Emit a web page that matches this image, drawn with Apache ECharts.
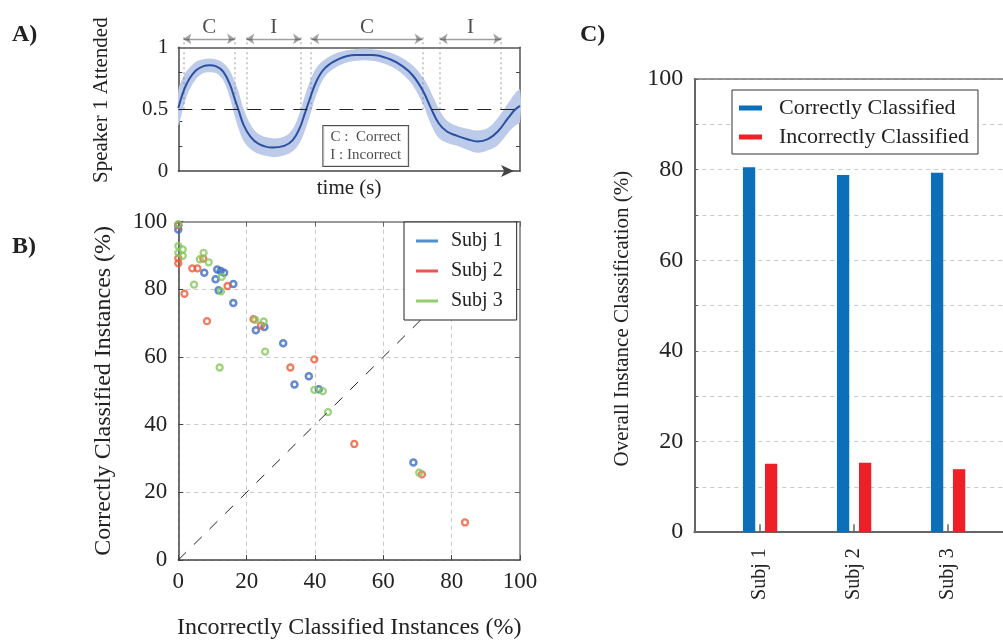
<!DOCTYPE html>
<html>
<head>
<meta charset="utf-8">
<title>Classification of attended speaker</title>
<script src="https://cdn.jsdelivr.net/npm/echarts@6.0.0/dist/echarts.min.js"></script>
<style>
  html, body { margin: 0; padding: 0; background: #fff; }
  #chart { width: 1003px; height: 641px; }
</style>
</head>
<body>
<div id="chart"></div>
<script>
// ---- panel A: decoder output over time (schematic) ----
const timeA = [0, 1.7, 3.2, 5.2, 7.2, 9.1, 11.1, 13.1, 15.1, 16.6, 17.6, 19.1, 21.1, 23.5, 27.5, 31.0, 33.5, 35.5, 36.9, 38.4,
  40.4, 42.9, 46.9, 51.8, 56.8, 61.8, 65.7, 68.7, 71.7, 73.9, 76.2, 78.6, 81.6, 84.6, 87.6, 90.6, 93.5, 96.5, 98.5, 100];
const attendMean = [0.51, 0.657, 0.743, 0.814, 0.846, 0.854, 0.846, 0.805, 0.70, 0.576, 0.495, 0.373, 0.278, 0.219, 0.189, 0.203, 0.25, 0.346, 0.454, 0.576,
  0.724, 0.832, 0.905, 0.938, 0.938, 0.905, 0.846, 0.77, 0.643, 0.51, 0.386, 0.319, 0.284, 0.257, 0.238, 0.257, 0.319, 0.427, 0.495, 0.527];
const bandHalf = [0.14, 0.12, 0.09, 0.07, 0.055, 0.055, 0.055, 0.07, 0.11, 0.14, 0.15, 0.13, 0.10, 0.08, 0.075, 0.075, 0.09, 0.12, 0.14, 0.14,
  0.11, 0.07, 0.055, 0.047, 0.047, 0.055, 0.065, 0.08, 0.11, 0.13, 0.12, 0.09, 0.08, 0.085, 0.09, 0.09, 0.11, 0.12, 0.13, 0.13];
const segStart = [1.5, 19.9, 38.9, 76.5];
const segEnd = [16.6, 35.9, 71.5, 94.5];
const segLabels = ['C', 'I', 'C', 'I'];
const segBounds = [1.5, 16.6, 19.9, 35.9, 38.9, 71.5, 76.5, 94.5];
const yLabelsA = [0, 0.5, 1];
const yTicksA = [0.2, 0.4, 0.6, 0.8];

// ---- panel B: correct vs incorrect per trial ----
const subj1X = [0, 0, 7.6, 11.4, 12.4, 13.4, 10.9, 16.1, 11.8, 16.1, 22.7, 25.2, 30.7, 38.2, 34.0, 41.1, 68.8];
const subj1Y = [99.0, 97.7, 84.9, 85.9, 85.4, 84.9, 83.0, 81.6, 79.7, 76.0, 67.9, 68.9, 64.1, 54.3, 51.9, 50.5, 28.8];
const subj2X = [0, 0, 0, 4.1, 5.6, 7.3, 1.8, 14.4, 8.4, 22.0, 24.2, 32.8, 39.8, 51.5, 71.3, 83.9];
const subj2Y = [99.0, 89.2, 87.7, 86.2, 86.2, 89.1, 78.7, 81.0, 70.6, 71.2, 69.3, 56.9, 59.3, 34.3, 25.3, 11.1];
const subj3X = [0, 0, 0, 1.3, 1.3, 6.3, 7.4, 8.9, 4.6, 12.7, 12.5, 22.5, 25.0, 25.4, 12.1, 39.8, 42.3, 43.8, 70.5];
const subj3Y = [99.3, 92.8, 90.8, 91.8, 89.9, 88.9, 90.8, 88.0, 81.4, 83.7, 79.4, 71.0, 70.5, 61.6, 56.9, 50.3, 49.9, 43.7, 25.8];
const chanceLine = [[0, 0], [100, 100]];

// ---- panel C: overall classification ----
const subjects = ['Subj 1', 'Subj 2', 'Subj 3'];
const subjPos = [1, 2, 3];
const correctPct = [80.5, 78.8, 79.3];
const incorrectPct = [15.1, 15.3, 13.9];

const FONT = 'Liberation Serif';
const INK = '#222';
const GRIDC = '#c8c8c8';

const zip = (xs, ys) => xs.map((x, i) => [x, ys[i]]);

const chart = echarts.init(document.getElementById('chart'));

const hiddenAxis = (grid, min, max) => ({
  gridIndex: grid, type: 'value', min, max, show: false
});

// shaded band around the mean curve, drawn once as a closed smooth polygon
function renderBand(params, api) {
  if (params.dataIndex !== 0) return;
  const upper = timeA.map((t, i) => api.coord([t, attendMean[i] + bandHalf[i]]));
  const lower = timeA.map((t, i) => api.coord([t, attendMean[i] - bandHalf[i]])).reverse();
  return {
    type: 'polygon',
    shape: { points: upper.concat(lower), smooth: 0.35 },
    style: { fill: '#bccbea' }
  };
}

const option = {
  animation: false,
  textStyle: { fontFamily: FONT, color: INK },
  grid: [
    { left: 178.3, top: 47.3, width: 341.7, height: 123.7, outerBoundsMode: 'none' },
    { left: 178.3, top: 221.7, width: 341.7, height: 338.3, outerBoundsMode: 'none' },
    { left: 694.3, top: 79, width: 319.6, height: 453.2, outerBoundsMode: 'none' },
    // overlay for the schematic annotations of panel A
    { left: 178.3, top: 16.4, width: 341.7, height: 154.6, outerBoundsMode: 'none' }
  ],
  graphic: [
    { type: 'text', x: 12, y: 35, style: { text: 'A)', fontSize: 24, fontWeight: 'bold', fontFamily: FONT, fill: INK, verticalAlign: 'middle' } },
    { type: 'text', x: 12, y: 247, style: { text: 'B)', fontSize: 24, fontWeight: 'bold', fontFamily: FONT, fill: INK, verticalAlign: 'middle' } },
    { type: 'text', x: 580, y: 35, style: { text: 'C)', fontSize: 24, fontWeight: 'bold', fontFamily: FONT, fill: INK, verticalAlign: 'middle' } }
  ],
  legend: [
    {
      data: subjects.map((s, i) => ({
        name: s,
        itemStyle: { color: ['#2a72c0', '#e62a2a', '#79c04a'][i], borderWidth: 0 }
      })),
      orient: 'vertical',
      left: 404, top: 222,
      icon: 'rect', itemWidth: 22, itemHeight: 3, itemGap: 10,
      padding: [9, 14, 9, 12],
      borderColor: '#222', borderWidth: 1, backgroundColor: '#fff',
      textStyle: { fontSize: 20, color: INK, fontFamily: FONT, padding: [0, 0, 0, 8] }
    },
    {
      data: ['Correctly Classified', 'Incorrectly Classified'],
      orient: 'vertical',
      left: 732, top: 90,
      icon: 'rect', itemWidth: 23, itemHeight: 5, itemGap: 7,
      padding: [7, 9, 6, 7],
      borderColor: '#333', borderWidth: 1, backgroundColor: '#fff',
      textStyle: { fontSize: 22, color: INK, fontFamily: FONT, padding: [0, 0, 0, 12] }
    }
  ],
  xAxis: [
    // 0: A bottom
    {
      gridIndex: 0, type: 'value', min: 0, max: 100,
      axisLine: { show: true, symbol: ['none', 'arrow'], symbolSize: [9, 13], symbolOffset: [0, -6], lineStyle: { color: '#444', width: 1.5 } },
      axisTick: { show: false }, axisLabel: { show: false }, splitLine: { show: false },
      name: 'time (s)', nameLocation: 'middle', nameGap: 7, nameMoveOverlap: false,
      nameTextStyle: { fontSize: 21, color: INK, verticalAlign: 'top' }
    },
    // 1: A top border
    {
      gridIndex: 0, type: 'value', min: 0, max: 100, position: 'top',
      axisLine: { show: true, onZero: false, lineStyle: { color: '#555', width: 1.5 } },
      axisTick: { show: false }, axisLabel: { show: false }, splitLine: { show: false }
    },
    // 2: B bottom
    {
      gridIndex: 1, type: 'value', min: 0, max: 100, interval: 20,
      axisLine: { show: true, onZero: false, lineStyle: { color: '#444', width: 1.5 } },
      axisTick: { show: true, inside: true, length: 5, lineStyle: { color: '#444' } },
      axisLabel: { fontSize: 23, color: INK, margin: 10 },
      splitLine: { show: true, lineStyle: { color: GRIDC, type: [4, 4], width: 1 } },
      name: 'Incorrectly Classified Instances (%)', nameLocation: 'middle', nameGap: 56, nameMoveOverlap: false,
      nameTextStyle: { fontSize: 24, color: INK, verticalAlign: 'top' }
    },
    // 3: B top border
    {
      gridIndex: 1, type: 'value', min: 0, max: 100, interval: 20, position: 'top',
      axisLine: { show: true, onZero: false, lineStyle: { color: '#999', width: 2 } },
      axisTick: { show: true, inside: true, length: 5, lineStyle: { color: '#666' } },
      axisLabel: { show: false }, splitLine: { show: false }
    },
    // 4: C bottom
    {
      gridIndex: 2, type: 'value', min: 0.3, max: 3.7,
      axisLine: { show: true, onZero: false, lineStyle: { color: '#666', width: 2 } },
      axisTick: { show: true, inside: true, length: 8, customValues: subjPos, lineStyle: { color: '#666', width: 1.5 } },
      axisLabel: {
        customValues: subjPos, rotate: 90, margin: 16, fontSize: 20, color: INK,
        formatter: v => subjects[subjPos.indexOf(v)]
      },
      splitLine: { show: false }
    },
    // 5: overlay x for A annotations
    hiddenAxis(3, 0, 100),
    // 6: C top border
    {
      gridIndex: 2, type: 'value', min: 0.3, max: 3.7, position: 'top',
      axisLine: { show: true, onZero: false, lineStyle: { color: '#777', width: 1.5 } },
      axisTick: { show: false }, axisLabel: { show: false }, splitLine: { show: false }
    }
  ],
  yAxis: [
    // 0: A left
    {
      gridIndex: 0, type: 'value', min: 0, max: 1,
      axisLine: { show: true, lineStyle: { color: '#444', width: 1.5 } },
      axisTick: { show: true, inside: true, length: 4, customValues: yTicksA, lineStyle: { color: '#444' } },
      axisLabel: { customValues: yLabelsA, fontSize: 21, color: INK, margin: 10 },
      splitLine: { show: false },
      name: 'Speaker 1 Attended', nameLocation: 'middle', nameGap: 66, nameMoveOverlap: false,
      nameTextStyle: { fontSize: 21, color: INK, padding: [0, 0, 0, 18] }
    },
    // 1: A right border
    {
      gridIndex: 0, type: 'value', min: 0, max: 1, position: 'right',
      axisLine: { show: true, onZero: false, lineStyle: { color: '#555', width: 1.5 } },
      axisTick: { show: true, inside: true, length: 4, customValues: yTicksA, lineStyle: { color: '#444' } },
      axisLabel: { show: false }, splitLine: { show: false }
    },
    // 2: B left
    {
      gridIndex: 1, type: 'value', min: 0, max: 100, interval: 20,
      axisLine: { show: true, onZero: false, lineStyle: { color: '#444', width: 1.5 } },
      axisTick: { show: true, inside: true, length: 5, lineStyle: { color: '#444' } },
      axisLabel: { fontSize: 23, color: INK, margin: 11 },
      splitLine: { show: true, lineStyle: { color: GRIDC, type: [4, 4], width: 1 } },
      name: 'Correctly Classified Instances (%)', nameLocation: 'middle', nameGap: 63, nameMoveOverlap: false,
      nameTextStyle: { fontSize: 24, color: INK }
    },
    // 3: B right border
    {
      gridIndex: 1, type: 'value', min: 0, max: 100, interval: 20, position: 'right',
      axisLine: { show: true, onZero: false, lineStyle: { color: '#999', width: 2 } },
      axisTick: { show: true, inside: true, length: 5, lineStyle: { color: '#666' } },
      axisLabel: { show: false }, splitLine: { show: false }
    },
    // 4: C left
    {
      gridIndex: 2, type: 'value', min: 0, max: 100, interval: 10,
      axisLine: { show: true, onZero: false, lineStyle: { color: '#666', width: 2 } },
      axisTick: { show: true, inside: true, length: 4, lineStyle: { color: '#666' } },
      axisLabel: { fontSize: 24, color: INK, margin: 11, formatter: v => (v % 20 === 0 ? String(v) : '') },
      splitLine: { show: true, lineStyle: { color: GRIDC, type: [4, 4], width: 1 } },
      name: 'Overall Instance Classification (%)', nameLocation: 'middle', nameGap: 61, nameMoveOverlap: false,
      nameTextStyle: { fontSize: 21, color: INK, padding: [0, 26, 0, 0] }
    },
    // 5: overlay y for A annotations
    hiddenAxis(3, 0, 1.25)
  ],
  series: [
    // ----- A -----
    {
      type: 'custom', xAxisIndex: 0, yAxisIndex: 0, silent: true, clip: true,
      renderItem: renderBand,
      data: zip(timeA, attendMean),
      z: 1
    },
    {
      type: 'line', xAxisIndex: 0, yAxisIndex: 0, smooth: 0.4, symbol: 'none', silent: true,
      lineStyle: { color: '#2b50a0', width: 2 },
      data: zip(timeA, attendMean),
      markLine: {
        silent: true, symbol: 'none', label: { show: false },
        lineStyle: { color: INK, type: [14, 9], width: 1 },
        data: [{ yAxis: 0.5 }]
      },
      z: 3
    },
    {
      type: 'lines', coordinateSystem: 'cartesian2d', xAxisIndex: 5, yAxisIndex: 5, silent: true,
      symbol: 'none',
      lineStyle: { color: '#777', type: [2, 3], width: 1.5 },
      data: segBounds.map(b => ({ coords: [[b, 0.5], [b, 1.09]] }))
    },
    {
      type: 'lines', coordinateSystem: 'cartesian2d', xAxisIndex: 5, yAxisIndex: 5, silent: true,
      symbol: ['arrow', 'arrow'], symbolSize: 8,
      lineStyle: { color: '#444', width: 1.3 },
      data: segStart.map((s, i) => ({ coords: [[s, 1.068], [segEnd[i], 1.068]] }))
    },
    {
      type: 'scatter', xAxisIndex: 5, yAxisIndex: 5, symbolSize: 0, silent: true,
      label: { show: true, position: 'inside', fontSize: 21, color: INK, formatter: p => p.value[2] },
      data: segLabels.map((l, i) => [(segStart[i] + segEnd[i]) / 2, 1.16, l])
    },
    {
      type: 'scatter', xAxisIndex: 5, yAxisIndex: 5, symbolSize: 0, silent: true,
      label: {
        show: true, position: 'inside', fontSize: 15, lineHeight: 18, color: INK,
        backgroundColor: '#fff', borderColor: '#222', borderWidth: 1, padding: [2, 7, 2, 7],
        formatter: 'C :  Correct\nI : Incorrect'
      },
      data: [[54.85, 0.202]],
      z: 5
    },
    // ----- B -----
    {
      type: 'line', xAxisIndex: 2, yAxisIndex: 2, symbol: 'none', silent: true,
      lineStyle: { color: INK, type: [11, 11], width: 1 },
      data: chanceLine
    },
    {
      name: 'Subj 1', type: 'scatter', xAxisIndex: 2, yAxisIndex: 2, symbol: 'circle', symbolSize: 6,
      itemStyle: { color: 'rgba(255,255,255,0)', borderColor: '#3d6cc2', borderWidth: 2.5 },
      data: zip(subj1X, subj1Y)
    },
    {
      name: 'Subj 2', type: 'scatter', xAxisIndex: 2, yAxisIndex: 2, symbol: 'circle', symbolSize: 6,
      itemStyle: { color: 'rgba(255,255,255,0)', borderColor: '#ee5a36', borderWidth: 2.3 },
      data: zip(subj2X, subj2Y)
    },
    {
      name: 'Subj 3', type: 'scatter', xAxisIndex: 2, yAxisIndex: 2, symbol: 'circle', symbolSize: 6,
      itemStyle: { color: 'rgba(255,255,255,0)', borderColor: '#85c85c', borderWidth: 2.3 },
      data: zip(subj3X, subj3Y)
    },
    // ----- C -----
    {
      name: 'Correctly Classified', type: 'bar', xAxisIndex: 4, yAxisIndex: 4,
      barWidth: 12.3, barGap: '79%',
      itemStyle: { color: '#0b6fba' },
      data: zip(subjPos, correctPct)
    },
    {
      name: 'Incorrectly Classified', type: 'bar', xAxisIndex: 4, yAxisIndex: 4,
      barWidth: 12.3, barGap: '79%',
      itemStyle: { color: '#ee1f26' },
      data: zip(subjPos, incorrectPct)
    }
  ]
};

chart.setOption(option);
</script>
</body>
</html>
